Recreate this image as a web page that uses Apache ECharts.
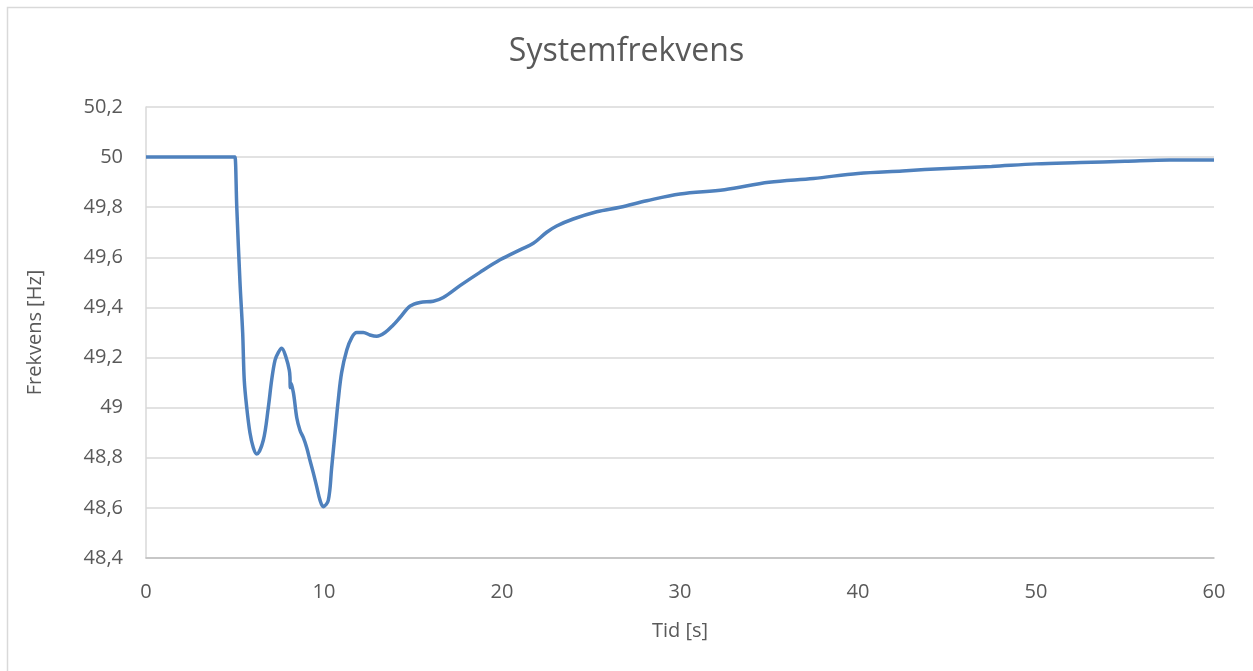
<!DOCTYPE html>
<html>
<head>
<meta charset="utf-8">
<script src="https://cdn.jsdelivr.net/npm/echarts@6/dist/echarts.min.js"></script>
<style>
  html, body { margin: 0; padding: 0; background: #fff; }
  #chart { width: 1253px; height: 671px; }
</style>
</head>
<body>
<div id="chart"></div>
<script>
// Time in seconds
const time = [
  0, 4.96, 5.0, 5.1, 5.28, 5.43, 5.52, 5.66, 5.84, 6.03, 6.22,
  6.59, 6.87, 7.06, 7.25, 7.43, 7.62, 7.87, 8.05, 8.09, 8.1, 8.12,
  8.28, 8.47, 8.65, 8.84, 9.03, 9.21, 9.40, 9.59, 9.78, 9.96,
  10.24, 10.43, 10.62, 10.80, 10.99, 11.28, 11.56, 11.84, 12.21,
  12.58, 12.96, 13.43, 13.89, 14.27, 14.83, 15.39, 16.14, 16.70,
  17.64, 18.76, 19.89, 21.01, 21.76, 22.51, 23.07, 24.0, 25.32,
  26.63, 28.13, 30.0, 32.5, 35.0, 37.5, 40.0, 42.5, 45.0, 47.5,
  50.0, 52.5, 55.0, 57.5, 60.0
];

// System frequency in Hz
const frequency = [
  50, 50, 50, 49.8, 49.5, 49.3, 49.11, 49.0, 48.9, 48.84, 48.815,
  48.87, 49.0, 49.11, 49.19, 49.22, 49.237, 49.2, 49.15, 49.12, 49.08, 49.1,
  49.06, 48.96, 48.91, 48.88, 48.84, 48.79, 48.74, 48.685, 48.63, 48.605,
  48.63, 48.76, 48.9, 49.03, 49.14, 49.23, 49.28, 49.30, 49.30,
  49.29, 49.285, 49.30, 49.33, 49.36, 49.405, 49.42, 49.425, 49.44,
  49.487, 49.54, 49.59, 49.63, 49.656, 49.70, 49.725, 49.753, 49.782,
  49.80, 49.826, 49.853, 49.87, 49.9, 49.915, 49.935, 49.945, 49.955, 49.963,
  49.973, 49.978, 49.983, 49.988, 49.988
];

const chartTitle = 'Systemfrekvens';
const xName = 'Tid [s]';
const yName = 'Frekvens [Hz]';

const points = time.map((t, i) => [t, frequency[i]]);
const textColor = '#595959';
const font = '"Open Sans", sans-serif';

const chart = echarts.init(document.getElementById('chart'), null, { renderer: 'canvas' });
chart.setOption({
  backgroundColor: '#ffffff',
  animation: false,
  graphic: [{
    type: 'rect',
    shape: { x: 7.5, y: 7.5, width: 1400, height: 800 },
    style: { fill: 'none', stroke: '#d9d9d9', lineWidth: 1.5 },
    silent: true
  }],
  title: {
    text: chartTitle,
    left: 'center',
    top: 31,
    textStyle: { color: textColor, fontFamily: font, fontSize: 32, fontWeight: 'normal' }
  },
  grid: { left: 146, right: 39, top: 107, bottom: 113, containLabel: false },
  xAxis: {
    type: 'value',
    min: 0, max: 60, interval: 10,
    name: xName,
    nameLocation: 'middle',
    nameGap: 63,
    nameTextStyle: { color: textColor, fontFamily: font, fontSize: 20 },
    axisLine: { show: true, lineStyle: { color: '#bfbfbf', width: 1.5 } },
    axisTick: { show: false },
    splitLine: { show: false },
    axisLabel: { color: textColor, fontFamily: font, fontSize: 20, margin: 24 }
  },
  yAxis: {
    type: 'value',
    min: 48.4, max: 50.2, interval: 0.2,
    name: yName,
    nameLocation: 'middle',
    nameGap: 101,
    nameRotate: 90,
    nameTextStyle: { color: textColor, fontFamily: font, fontSize: 20 },
    axisLine: { show: true, lineStyle: { color: '#d9d9d9', width: 1.5 } },
    axisTick: { show: false },
    splitLine: { show: true, lineStyle: { color: '#d9d9d9', width: 1.5 } },
    axisLabel: {
      color: textColor, fontFamily: font, fontSize: 20, margin: 23,
      formatter: v => {
        const r = Math.round(v * 10) / 10;
        return (Number.isInteger(r) ? String(r) : r.toFixed(1)).replace('.', ',');
      }
    }
  },
  series: [{
    type: 'line',
    data: points,
    showSymbol: false,
    smooth: 0.35,
    lineStyle: { color: '#4f81bd', width: 3.5 },
    clip: true
  }]
});
</script>
</body>
</html>
